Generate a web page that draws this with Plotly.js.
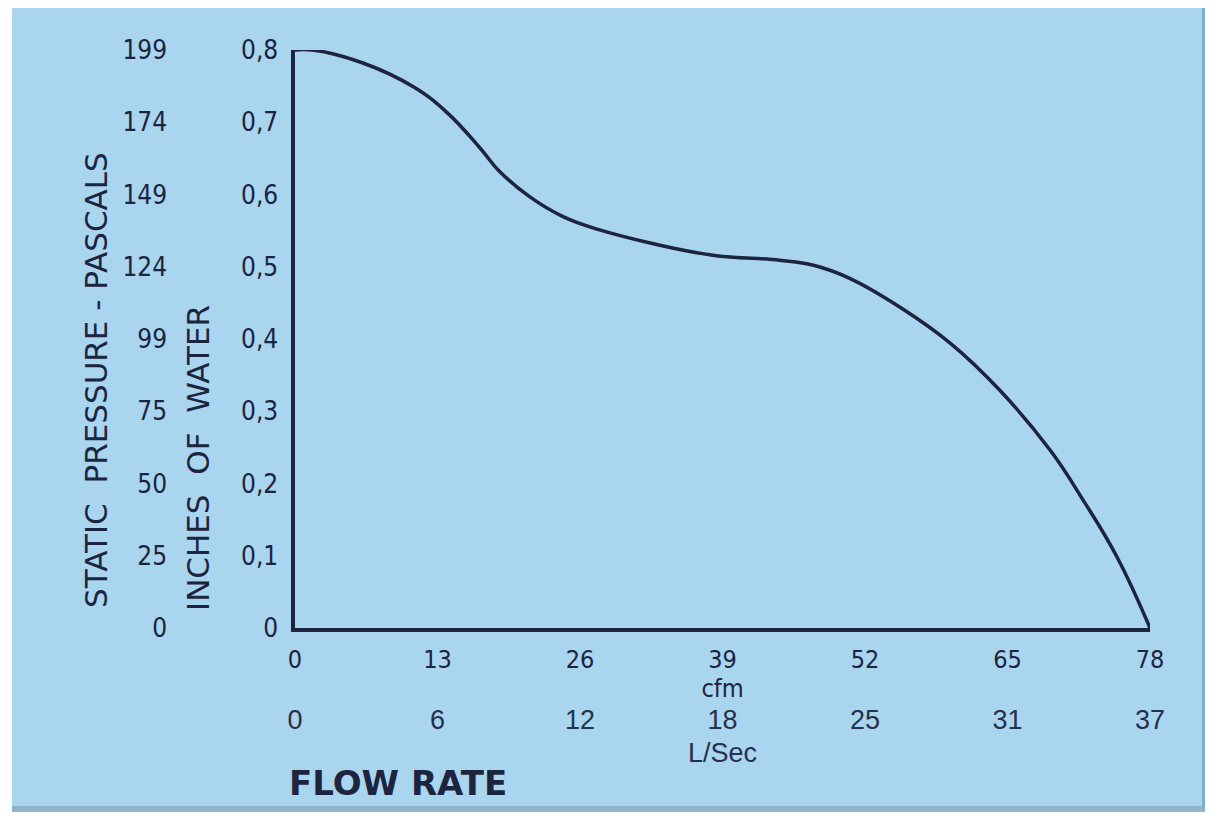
<!DOCTYPE html>
<html>
<head>
<meta charset="utf-8">
<script src="https://cdn.plot.ly/plotly-3.0.1.min.js"></script>
<style>
  html, body { margin: 0; padding: 0; background: #ffffff; width: 1216px; height: 814px; overflow: hidden; }
  #chart { position: absolute; left: 12px; top: 8px; width: 1190px; height: 798px;
           border-bottom: 6px solid #8fb4cc; border-right: 3px solid #7fb0d0; }
</style>
</head>
<body>
<div id="chart"></div>
<script>
// Flow rate (cfm) and static pressure (inches of water)
const flowCfm = [0, 1.6, 6.2, 10.8, 13.9, 16.9, 18.6, 21.4, 24.5, 27.8, 32.1, 38.1, 44.2, 47.3, 50.6, 55.2, 59.8, 64.3, 68.9, 71.9, 75.0, 78];
const pressureInH2O = [0.8, 0.8, 0.782, 0.749, 0.713, 0.664, 0.633, 0.597, 0.569, 0.551, 0.534, 0.516, 0.509, 0.502, 0.484, 0.444, 0.394, 0.329, 0.246, 0.177, 0.098, 0];

// Tick positions and labels
const cfmTicks = [0, 13, 26, 39, 52, 65, 78];
const cfmLabels = ['0', '13', '26', '39', '52', '65', '78'];
const lsecLabels = ['0', '6', '12', '18', '25', '31', '37'];
const inchTicks = [0, 0.1, 0.2, 0.3, 0.4, 0.5, 0.6, 0.7, 0.8];
const inchLabels = ['0', '0,1', '0,2', '0,3', '0,4', '0,5', '0,6', '0,7', '0,8'];
const pascalLabels = ['0', '25', '50', '75', '99', '124', '149', '174', '199'];

const ink = '#1c2440';
const condensed = '"DejaVu Sans Condensed", "DejaVu Sans", sans-serif';
const wide = '"DejaVu Sans", sans-serif';
const narrow = '"Liberation Sans Narrow", "Liberation Sans", Arial, sans-serif';

const traces = [
  {
    x: flowCfm, y: pressureInH2O, type: 'scatter', mode: 'lines',
    line: { color: ink, width: 3.5, shape: 'spline', smoothing: 1.2 },
    hoverinfo: 'skip', showlegend: false
  },
  // invisible helpers to activate the secondary axes
  { x: [0, 78], y: [0, 0.8], xaxis: 'x2', yaxis: 'y', type: 'scatter', mode: 'none', showlegend: false, hoverinfo: 'skip' },
  { x: [0, 78], y: [0, 0.8], xaxis: 'x', yaxis: 'y2', type: 'scatter', mode: 'none', showlegend: false, hoverinfo: 'skip' }
];

const layout = {
  width: 1190, height: 798,
  margin: { l: 20, r: 52, t: 42, b: 10 },
  paper_bgcolor: '#a9d5ef',
  plot_bgcolor: 'rgba(0,0,0,0)',
  showlegend: false,
  xaxis: {
    domain: [0.2352, 1],
    range: [0, 78], fixedrange: true,
    tickvals: cfmTicks, ticktext: cfmLabels,
    showgrid: false, zeroline: false,
    showline: true, linecolor: ink, linewidth: 3.5,
    ticks: '', ticklabelstandoff: 6,
    tickfont: { family: condensed, size: 25, color: ink },
    title: { text: 'cfm', standoff: 0, font: { family: condensed, size: 25, color: ink } },
    automargin: false
  },
  xaxis2: {
    overlaying: 'x', anchor: 'free', position: 0.127, side: 'bottom',
    range: [0, 78],
    tickvals: cfmTicks, ticktext: lsecLabels,
    showgrid: false, zeroline: false, showline: false, ticks: '',
    tickfont: { family: narrow, size: 27, color: '#26304c' },
    title: { text: 'L/Sec', standoff: 8, font: { family: narrow, size: 27, color: '#26304c' } },
    automargin: false
  },
  yaxis: {
    domain: [0.2252, 1],
    range: [0, 0.8], fixedrange: true,
    tickvals: inchTicks, ticktext: inchLabels,
    showgrid: false, zeroline: false,
    showline: true, linecolor: ink, linewidth: 3.5,
    ticks: '', ticklabelstandoff: 8,
    tickfont: { family: condensed, size: 26, color: ink },
    automargin: false
  },
  yaxis2: {
    overlaying: 'y', anchor: 'free', position: 0.1208, side: 'left',
    range: [0, 0.8],
    tickvals: inchTicks, ticktext: pascalLabels,
    showgrid: false, zeroline: false, showline: false, ticks: '',
    tickfont: { family: condensed, size: 26, color: ink },
    automargin: false
  },
  annotations: [
    { text: 'STATIC  PRESSURE - PASCALS', xref: 'paper', yref: 'paper', x: 0.0572, y: 0.5576,
      textangle: -90, showarrow: false, xanchor: 'center', yanchor: 'middle',
      font: { family: wide, size: 31, color: ink } },
    { text: 'INCHES  OF  WATER', xref: 'paper', yref: 'paper', x: 0.1485, y: 0.4531,
      textangle: -90, showarrow: false, xanchor: 'center', yanchor: 'middle',
      font: { family: wide, size: 31, color: ink } },
    { text: '<b>FLOW RATE</b>', xref: 'paper', yref: 'paper', x: 0.2281, y: 0.0174,
      showarrow: false, xanchor: 'left', yanchor: 'middle',
      font: { family: wide, size: 34, color: ink } }
  ]
};

Plotly.newPlot('chart', traces, layout, { staticPlot: true, displayModeBar: false });
</script>
</body>
</html>
